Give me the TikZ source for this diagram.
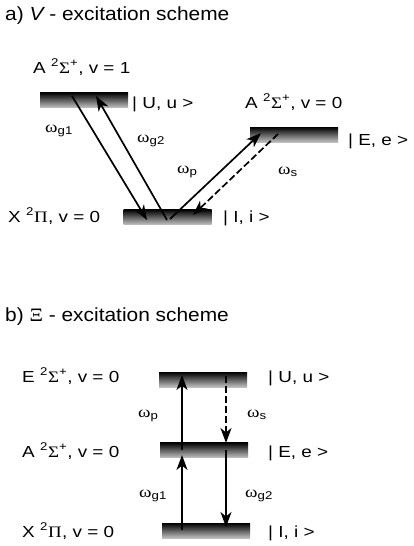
\documentclass[tikz,border=0pt]{standalone}
\usepackage{fontspec}
\setmainfont{Liberation Sans}
\newfontfamily\grk{Liberation Serif}
\usetikzlibrary{arrows.meta,calc}
\tikzset{
  level/.style = {inner sep=0pt, minimum width=88pt, minimum height=15pt,
                  top color=black, bottom color=black!25},
  lvl/.style   = {font=\fontsize{16}{19}\selectfont, xscale=1.18,
                  inner sep=0pt, anchor=base west},
  ttl/.style   = {font=\fontsize{19}{23}\selectfont, xscale=1.1,
                  inner sep=0pt, anchor=base west},
  sig/.style   = {-{Stealth[length=15pt,width=11pt,inset=4.5pt]}, line width=1.7pt},
  sigd/.style  = {sig, dash pattern=on 7pt off 3pt},
}
\newcommand{\om}[1]{{\grk ω}\textsubscript{#1}}
\newcommand{\trm}[3]{#1 \textsuperscript{2}{\grk #2}\textsuperscript{#3}}

\begin{document}
\begin{tikzpicture}[x=1pt,y=-1pt]
\useasboundingbox (0,0) rectangle (414,546);
% ---- (a) V scheme ----
\node[ttl] (ta) at (5,20) {a) {\itshape V} - excitation scheme};
\node[level] (Ua) at (84,100) {};
\node[level] (Ea) at (294,134.5) {};
\node[level] (Ia) at (167.5,217) {};
\node[lvl] (Ual) at (33,73) {\trm{A}{Σ}{+}, v = 1};
\node[lvl] (Uar) at (132,108) {| U, u >};
\node[lvl] (Eal) at (245,108) {\trm{A}{Σ}{+}, v = 0};
\node[lvl] (Ear) at (348,145) {| E, e >};
\node[lvl] (Ial) at (8,222) {\trm{X}{Π}{}, v = 0};
\node[lvl] (Iar) at (223,222) {| I, i >};
\draw[sig] ($(Ua)+(-12,-4)$) -- ($(Ia)+(-20.5,3)$);
\draw[sig] ($(Ia)+(-0.5,3)$) -- ($(Ua)+(12,-4)$);
\draw[sig] ($(Ia)+(2.5,2)$) -- ($(Ea)+(-33,-1.5)$);
\draw[sigd] ($(Ea)+(-16,-0.5)$) -- ($(Ia)+(25.5,-2)$);
\node[lvl] (wg1a) at (45,132) {\om{g1}};
\node[lvl] (wg2a) at (137,142) {\om{g2}};
\node[lvl] (wpa) at (177,173) {\om{p}};
\node[lvl] (wsa) at (278,174) {\om{s}};
% ---- (b) Xi scheme ----
\node[ttl] (tb) at (5,321) {b) {\grk Ξ} - excitation scheme};
\node[level] (Ub) at (203,379.5) {};
\node[level] (Eb) at (204,450) {};
\node[level] (Ib) at (206,530.5) {};
\node[lvl] (Ubl) at (22,382) {\trm{E}{Σ}{+}, v = 0};
\node[lvl] (Ubr) at (268,382) {| U, u >};
\node[lvl] (Ebl) at (22,457) {\trm{A}{Σ}{+}, v = 0};
\node[lvl] (Ebr) at (268,457) {| E, e >};
\node[lvl] (Ibl) at (22,537) {\trm{X}{Π}{}, v = 0};
\node[lvl] (Ibr) at (268,537) {| I, i >};
\draw[sig] ($(Eb)+(-22,0)$) -- ($(Ub)+(-21,-4.5)$);
\draw[sig] ($(Ib)+(-24,-0.5)$) -- ($(Eb)+(-22,5)$);
\draw[sigd] ($(Ub)+(23,-3.5)$) -- ($(Eb)+(22,-7)$);
\draw[sig] ($(Eb)+(22,0)$) -- ($(Ib)+(20,-3.5)$);
\node[lvl] (wpb) at (138,417) {\om{p}};
\node[lvl] (wsb) at (247,417) {\om{s}};
\node[lvl] (wg1b) at (139,497) {\om{g1}};
\node[lvl] (wg2b) at (245,497) {\om{g2}};
\end{tikzpicture}
\end{document}
